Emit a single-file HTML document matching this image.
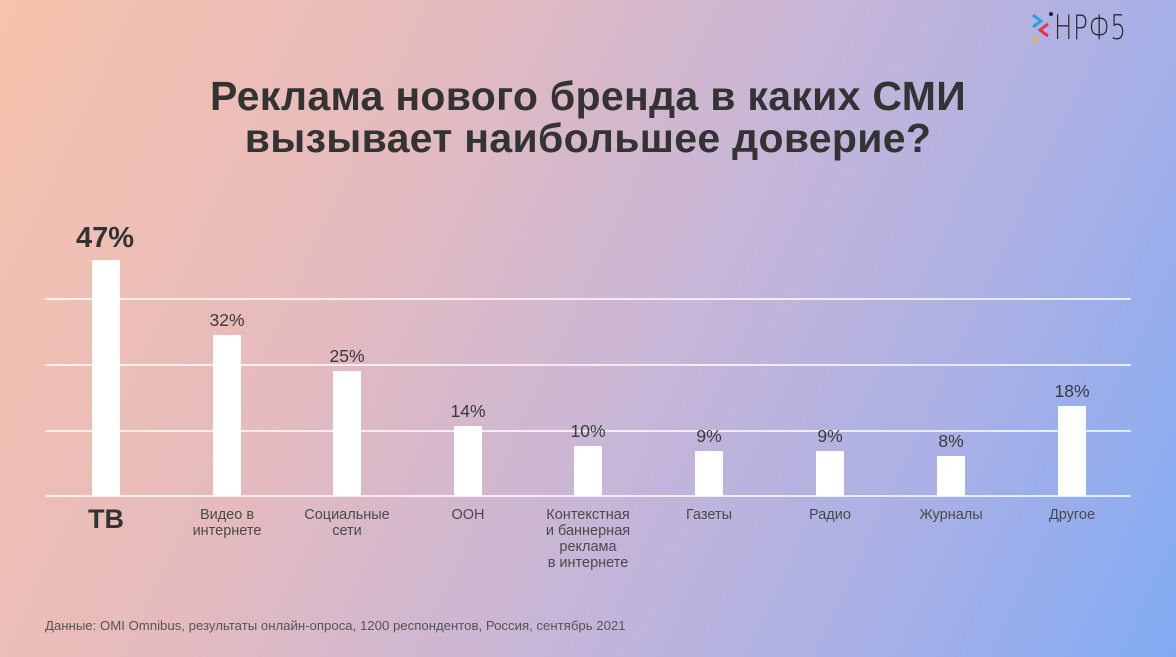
<!DOCTYPE html>
<html><head><meta charset="utf-8"><style>
body{margin:0;width:1176px;height:657px;overflow:hidden;font-family:"Liberation Sans",sans-serif;}
.bg{position:absolute;left:0;top:0;width:1176px;height:657px;background:linear-gradient(115deg,#f7c3ac 0%,#e6bbbd 30%,#c9b6d6 55%,#a9b0e6 78%,#82abf4 100%);}
.t{position:absolute;left:0;width:1176px;text-align:center;font-weight:bold;font-size:41px;color:#333;line-height:42px;letter-spacing:0.3px}
.g{position:absolute;left:45px;width:1086px;height:2px;background:rgba(255,255,255,0.75);}
.b{position:absolute;width:28px;background:#fff;}
.v{position:absolute;width:100px;text-align:center;color:#3a3a3a;font-size:17.5px;}
.l{position:absolute;width:130px;text-align:center;color:#4a4a4a;font-size:14.5px;line-height:16px;}
</style></head><body>
<div class="bg"></div>
<div class="t" style="top:75px">Реклама нового бренда в каких СМИ<br>вызывает наибольшее доверие?</div>
<div style="position:absolute;left:1054px;top:8px;font-size:34px;color:#2a2a2a;font-family:'DejaVu Sans',sans-serif;font-weight:300;transform:scaleX(0.72);transform-origin:left;letter-spacing:1px">НРФ5</div>
<svg style="position:absolute;left:1030px;top:10px" width="26" height="36"><polyline points="3,5 11,11 3,17" fill="none" stroke="#2aa0e0" stroke-width="3"/><polyline points="18,14 10,20 18,26" fill="none" stroke="#e8334a" stroke-width="3"/><circle cx="21" cy="4" r="2" fill="#222"/><circle cx="5" cy="30" r="2.5" fill="#f5b335"/></svg>
<div class="g" style="top:298px"></div><div class="g" style="top:364px"></div><div class="g" style="top:430px"></div><div class="g" style="top:495px"></div>
<div class="b" style="left:92px;top:260px;height:236px"></div>
<div class="b" style="left:213px;top:335px;height:161px"></div>
<div class="b" style="left:333px;top:371px;height:125px"></div>
<div class="b" style="left:454px;top:426px;height:70px"></div>
<div class="b" style="left:574px;top:446px;height:50px"></div>
<div class="b" style="left:695px;top:451px;height:45px"></div>
<div class="b" style="left:816px;top:451px;height:45px"></div>
<div class="b" style="left:937px;top:456px;height:40px"></div>
<div class="b" style="left:1058px;top:406px;height:90px"></div>
<div class="v" style="left:55px;top:222px;font-size:29px;font-weight:bold;color:#333">47%</div>
<div class="v" style="left:177px;top:310px">32%</div>
<div class="v" style="left:297px;top:346px">25%</div>
<div class="v" style="left:418px;top:401px">14%</div>
<div class="v" style="left:538px;top:421px">10%</div>
<div class="v" style="left:659px;top:426px">9%</div>
<div class="v" style="left:780px;top:426px">9%</div>
<div class="v" style="left:901px;top:431px">8%</div>
<div class="v" style="left:1022px;top:381px">18%</div>
<div class="l" style="left:41px;top:504px;font-size:27px;font-weight:bold;color:#333;line-height:30px">ТВ</div>
<div class="l" style="left:162px;top:507px">Видео в<br>интернете</div>
<div class="l" style="left:282px;top:507px">Социальные<br>сети</div>
<div class="l" style="left:403px;top:507px">ООН</div>
<div class="l" style="left:523px;top:507px">Контекстная<br>и баннерная<br>реклама<br>в интернете</div>
<div class="l" style="left:644px;top:507px">Газеты</div>
<div class="l" style="left:765px;top:507px">Радио</div>
<div class="l" style="left:886px;top:507px">Журналы</div>
<div class="l" style="left:1007px;top:507px">Другое</div>
<div style="position:absolute;left:45px;top:618px;font-size:13.2px;color:#555">Данные: OMI Omnibus, результаты онлайн-опроса, 1200 респондентов, Россия, сентябрь 2021</div>
</body></html>
